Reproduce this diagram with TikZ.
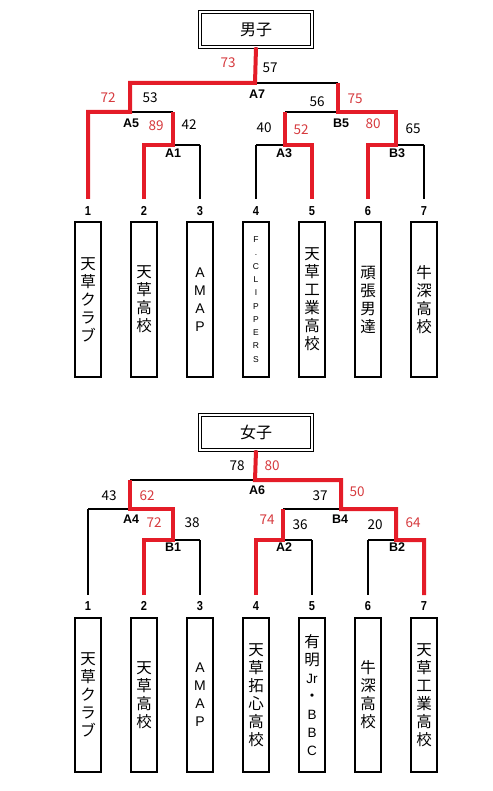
\documentclass[tikz,border=0pt]{standalone}
\usepackage{fontspec}
\setmainfont{Noto Sans CJK JP}
\newfontfamily\numfont{Liberation Sans}
\definecolor{winred}{RGB}{228,28,40}
\definecolor{scorered}{RGB}{214,58,62}
\tikzset{
 bl/.style={line width=1.6pt, black},
 rd/.style={line width=4pt, winred, line join=miter},
 sc/.style={font=\fontsize{13.5}{13.5}\selectfont, inner sep=0pt},
 scr/.style={sc, text=scorered},
 mt/.style={font=\numfont\bfseries\fontsize{12.5}{12.5}\selectfont, inner sep=0pt},
 tn/.style={font=\numfont\bfseries\fontsize{13}{13}\selectfont, inner sep=0pt, xscale=0.85},
 tbox/.style={draw, line width=1.8pt, minimum width=26pt, inner sep=0pt},
 vt/.style={align=center, inner sep=0pt, font=\fontsize{15.5}{18}\selectfont},
 vtl/.style={align=center, inner sep=0pt, font=\numfont\fontsize{14}{18}\selectfont},
 vts/.style={align=center, inner sep=0pt, font=\numfont\fontsize{8.5}{13.3}\selectfont},
 ttl/.style={draw, double, double distance=2pt, line width=0.9pt, minimum width=112pt, minimum height=35pt, inner sep=0pt, font=\fontsize{16}{16}\selectfont}
}
\begin{document}
\begin{tikzpicture}[x=1pt,y=-1pt]
\useasboundingbox (0,0) rectangle (492,791);

% ================= BOYS =================
\node[ttl] (bt) at (256,29.5) {男子};
\foreach \i/\x in {1/88,2/144,3/200,4/256,5/312,6/368,7/424}{
  \node[tbox, minimum height=155pt] (b\i) at (\x,299.5) {};
  \node[tn] (bn\i) at (\x,211) {\i};
  \coordinate (bl\i) at (\x,199);
}
\node[vt] at (b1) {天\\草\\ク\\ラ\\ブ};
\node[vt] at (b2) {天\\草\\高\\校};
\node[vtl] at (b3) {A\\M\\A\\P};
\node[vts] at (b4) {F\\.\\C\\L\\I\\P\\P\\E\\R\\S};
\node[vt] at (b5) {天\\草\\工\\業\\高\\校};
\node[vt] at (b6) {頑\\張\\男\\達};
\node[vt] at (b7) {牛\\深\\高\\校};

\coordinate (A7) at (255,83);
\coordinate (A5) at (130,112); \coordinate (A5t) at (130,83);
\coordinate (B5) at (338,112); \coordinate (B5t) at (338,83);
\coordinate (A1) at (173,145); \coordinate (A1t) at (173,112);
\coordinate (A3) at (285,145); \coordinate (A3t) at (285,112);
\coordinate (B3) at (396,145); \coordinate (B3t) at (396,112);

\draw[bl] (bt.south) -- (A7);
\draw[bl] (A5t) -- (B5t);
\draw[bl] (A5t) -- (A5); \draw[bl] (B5t) -- (B5);
\draw[bl] (88,112) -- (A1t); \draw[bl] (A3t) -- (B3t);
\draw[bl] (A1t) -- (A1); \draw[bl] (A3t) -- (A3); \draw[bl] (B3t) -- (B3);
\draw[bl] (144,145) -- (200,145);
\draw[bl] (256,145) -- (312,145);
\draw[bl] (368,145) -- (424,145);
\draw[bl] (88,112) -- (bl1);
\foreach \i/\x in {2/144,3/200,4/256,5/312,6/368,7/424}{
  \draw[bl] (\x,145) -- (bl\i);
}
\draw[rd] (bl1) -- (88,112) -- (A5) -- (A5t) -- (A7) -- (bt.south);
\draw[rd] (bl2) -- (144,145) -- (A1) -- (A1t);
\draw[rd] (bl5) -- (312,145) -- (A3) -- (A3t);
\draw[rd] (bl6) -- (368,145) -- (B3) -- (B3t) -- (B5) -- (B5t);

\node[scr] at (228,63) {73}; \node[sc] at (270,68) {57}; \node[mt] at (257,94) {A7};
\node[scr] at (108,98) {72}; \node[sc] at (150,98) {53}; \node[mt] at (131,123) {A5};
\node[scr] at (156,126) {89}; \node[sc] at (189,125) {42}; \node[mt] at (173,153) {A1};
\node[sc] at (264,128) {40}; \node[scr] at (301,130) {52}; \node[mt] at (284,153) {A3};
\node[sc] at (317,102) {56}; \node[scr] at (355,99) {75}; \node[mt] at (341,123) {B5};
\node[scr] at (373,124) {80}; \node[sc] at (413,129) {65}; \node[mt] at (397,153) {B3};

% ================= GIRLS =================
\node[ttl] (gt) at (256,432.5) {女子};
\foreach \i/\x in {1/88,2/144,3/200,4/256,5/312,6/368,7/424}{
  \node[tbox, minimum height=154pt] (g\i) at (\x,695) {};
  \node[tn] (gn\i) at (\x,606) {\i};
  \coordinate (gl\i) at (\x,595);
}
\node[vt] at (g1) {天\\草\\ク\\ラ\\ブ};
\node[vt] at (g2) {天\\草\\高\\校};
\node[vtl] at (g3) {A\\M\\A\\P};
\node[vt] at (g4) {天\\草\\拓\\心\\高\\校};
\node[vt] at (g5) {有\\明\\{\numfont\fontsize{13.5}{18}\selectfont Jr}\\・\\{\numfont\fontsize{13.5}{18}\selectfont B}\\{\numfont\fontsize{13.5}{18}\selectfont B}\\{\numfont\fontsize{13.5}{18}\selectfont C}};
\node[vt] at (g6) {牛\\深\\高\\校};
\node[vt] at (g7) {天\\草\\工\\業\\高\\校};

\coordinate (A6) at (255,480);
\coordinate (A4) at (130,509); \coordinate (A4t) at (130,480);
\coordinate (B4) at (341,509); \coordinate (B4t) at (341,480);
\coordinate (B1) at (173,540); \coordinate (B1t) at (173,509);
\coordinate (A2) at (283,540); \coordinate (A2t) at (283,509);
\coordinate (B2) at (396,540); \coordinate (B2t) at (396,509);

\draw[bl] (gt.south) -- (A6);
\draw[bl] (A4t) -- (B4t);
\draw[bl] (A4t) -- (A4); \draw[bl] (B4t) -- (B4);
\draw[bl] (88,509) -- (B1t); \draw[bl] (A2t) -- (B2t);
\draw[bl] (B1t) -- (B1); \draw[bl] (A2t) -- (A2); \draw[bl] (B2t) -- (B2);
\draw[bl] (144,540) -- (200,540);
\draw[bl] (256,540) -- (312,540);
\draw[bl] (368,540) -- (424,540);
\draw[bl] (88,509) -- (gl1);
\foreach \i/\x in {2/144,3/200,4/256,5/312,6/368,7/424}{
  \draw[bl] (\x,540) -- (gl\i);
}
\draw[rd] (gl2) -- (144,540) -- (B1) -- (B1t) -- (A4) -- (A4t);
\draw[rd] (gl4) -- (256,540) -- (A2) -- (A2t);
\draw[rd] (gl7) -- (424,540) -- (B2) -- (B2t) -- (B4) -- (B4t) -- (A6) -- (gt.south);

\node[sc] at (237,466) {78}; \node[scr] at (272,466) {80}; \node[mt] at (257,490) {A6};
\node[sc] at (109,496) {43}; \node[scr] at (147,496) {62}; \node[mt] at (131,519) {A4};
\node[scr] at (154,523) {72}; \node[sc] at (192,523) {38}; \node[mt] at (173,547) {B1};
\node[scr] at (267,520) {74}; \node[sc] at (300,525) {36}; \node[mt] at (284,547) {A2};
\node[sc] at (320,496) {37}; \node[scr] at (357,492) {50}; \node[mt] at (340,519) {B4};
\node[sc] at (375,525) {20}; \node[scr] at (413,523) {64}; \node[mt] at (397,547) {B2};
\end{tikzpicture}
\end{document}
